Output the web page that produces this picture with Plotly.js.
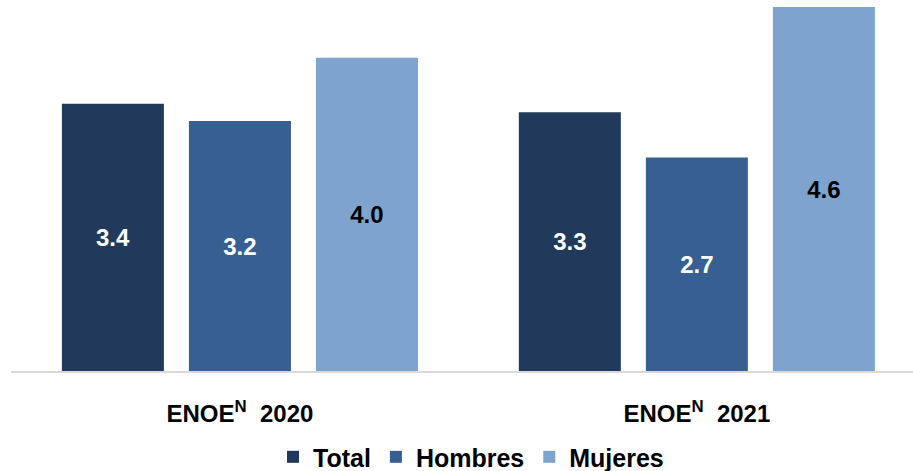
<!DOCTYPE html>
<html>
<head>
<meta charset="utf-8">
<script src="https://cdn.plot.ly/plotly-3.0.1.min.js"></script>
<style>html,body{margin:0;padding:0;background:#fff;}#chart{width:913px;height:471px;}</style>
</head>
<body>
<div id="chart"></div>
<script>
var categories = ["ENOE<sup>N</sup>&nbsp; 2020", "ENOE<sup>N</sup>&nbsp; 2021"];
var seriesNames = ["Total", "Hombres", "Mujeres"];
var totalValues = [3.38, 3.27];
var hombresValues = [3.16, 2.70];
var mujeresValues = [3.96, 4.60];
var seriesColors = ["#213a5c", "#375f92", "#7ea3cf"];
var textColors = ["#ffffff", "#ffffff", "#000000"];

var allValues = [totalValues, hombresValues, mujeresValues];
var traces = allValues.map(function (vals, i) {
  return {
    type: "bar",
    name: seriesNames[i],
    x: categories,
    y: vals,
    marker: { color: seriesColors[i] },
    texttemplate: "%{y:.1f}",
    textposition: "inside",
    insidetextanchor: "middle",
    textangle: 0,
    constraintext: "none",
    textfont: { family: "Liberation Sans, Arial, sans-serif", size: 24, color: textColors[i], weight: "bold" },
    hoverinfo: "none"
  };
});

var layout = {
  width: 913,
  height: 471,
  margin: { l: 11, r: 0, t: 0, b: 100, autoexpand: false },
  paper_bgcolor: "#ffffff",
  plot_bgcolor: "#ffffff",
  barmode: "group",
  bargap: 0.166,
  bargroupgap: 0.197,
  font: { family: "Liberation Sans, Arial, sans-serif", color: "#000000" },
  xaxis: {
    type: "category",
    range: [-0.501, 1.473],
    showline: true,
    linecolor: "#d9d9d9",
    linewidth: 2,
    showgrid: false,
    zeroline: false,
    ticks: "outside",
    ticklen: 20,
    tickcolor: "rgba(0,0,0,0)",
    tickfont: { size: 24, weight: "bold", color: "#000000" },
    automargin: false,
    fixedrange: true
  },
  yaxis: {
    range: [0, 4.69],
    visible: false,
    showgrid: false,
    zeroline: false,
    fixedrange: true
  },
  showlegend: true,
  legend: {
    orientation: "h",
    x: 0.51,
    xanchor: "center",
    y: -0.232,
    yanchor: "middle",
    font: { size: 25, weight: "bold", color: "#000000" },
    traceorder: "normal",
    itemwidth: 30,
    itemclick: false,
    itemdoubleclick: false
  }
};

Plotly.newPlot("chart", traces, layout, { staticPlot: true, displayModeBar: false });
</script>
</body>
</html>
